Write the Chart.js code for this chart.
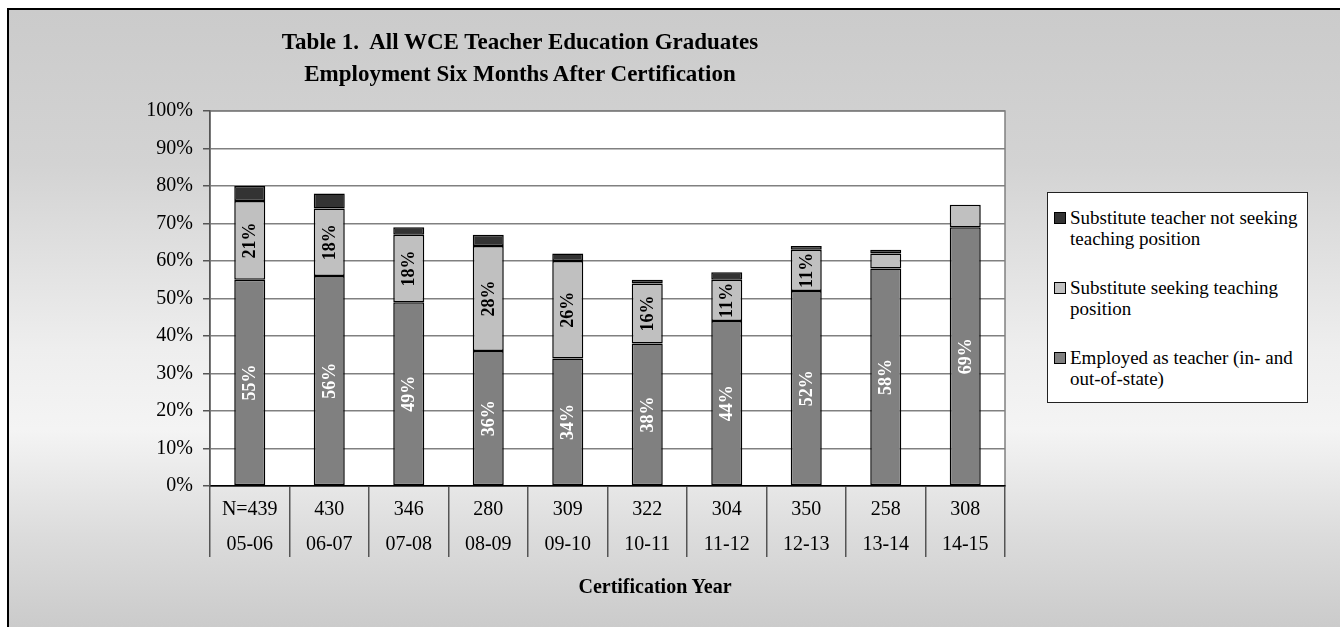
<!DOCTYPE html>
<html>
<head>
<meta charset="utf-8">
<script src="https://cdn.jsdelivr.net/npm/chart.js@4.4.0/dist/chart.umd.min.js"></script>
<style>
  html, body { margin: 0; padding: 0; background: #fff; width: 1340px; height: 627px; overflow: hidden; }
  #frame {
    position: absolute; left: 7px; top: 8px; right: 0; bottom: 0;
    border-left: 2px solid #000; border-top: 2px solid #000;
    background: linear-gradient(to bottom, #cbcbcb 0%, #d3d3d3 25%, #eeeeee 55%, #f4f4f4 68%, #dcdcdc 85%, #cbcbcb 100%);
  }
  canvas { position: absolute; left: 0; top: 0; }
  .txt { position: absolute; font-family: "Liberation Serif", "Times New Roman", serif; color: #000; }
  #title { left: 220px; width: 600px; top: 26px; text-align: center; font-weight: bold; font-size: 23px; line-height: 32px; }
  #xtitle { left: 555px; width: 200px; top: 575px; text-align: center; font-weight: bold; font-size: 20px; }
  #legend { position: absolute; left: 1047px; top: 192px; width: 259px; height: 209px; border: 1px solid #222; background: #fff;
    font-family: "Liberation Serif", "Times New Roman", serif; font-size: 19px; line-height: 21px; }
  .item { position: absolute; left: 6px; right: 4px; padding-left: 16px; }
  .mk { position: absolute; left: 0; top: 5px; width: 10px; height: 10px; border: 1px solid #000; }
</style>
</head>
<body>
<div id="frame"></div>
<canvas id="chart" width="1340" height="627"></canvas>
<div class="txt" id="title">Table 1.&nbsp; All WCE Teacher Education Graduates<br>Employment Six Months After Certification</div>
<div class="txt" id="xtitle">Certification Year</div>
<div id="legend"></div>
<script>
const years = ['05-06', '06-07', '07-08', '08-09', '09-10', '10-11', '11-12', '12-13', '13-14', '14-15'];
const counts = ['N=439', '430', '346', '280', '309', '322', '304', '350', '258', '308'];

// percent of graduates
const employed = [55, 56, 49, 36, 34, 38, 44, 52, 58, 69];
const subSeeking = [21, 18, 18, 28, 26, 16, 11, 11, 4, 6];
const subNotSeeking = [4, 4, 2, 3, 2, 1, 2, 1, 1, null];

const seriesNames = ['Employed as teacher (in- and out-of-state)', 'Substitute seeking teaching position', 'Substitute teacher not seeking teaching position'];
const seriesColors = ['#808080', '#c0c0c0', '#333333'];

var lables = [];
for (let i = 0; i < years.length; i++) {
    lables.push([counts[i], years[i]]);
}

const serif = 'Liberation Serif';

const plotBg = {
    id: 'plotBg',
    beforeDraw(chart) {
        const a = chart.chartArea, ctx = chart.ctx;
        ctx.save();
        ctx.fillStyle = '#fff';
        ctx.fillRect(a.left, a.top, a.right - a.left, a.bottom - a.top);
        ctx.strokeStyle = '#808080';
        ctx.lineWidth = 1.5;
        ctx.strokeRect(a.left, a.top, a.right - a.left, a.bottom - a.top);
        ctx.restore();
    }
};

// rotated percent labels inside the segments
const barLabels = {
    id: 'barLabels',
    afterDatasetsDraw(chart) {
        const ctx = chart.ctx;
        [0, 1].forEach(d => {
            const ds = chart.data.datasets[d];
            chart.getDatasetMeta(d).data.forEach((bar, i) => {
                const v = ds.data[i];
                if (v == null || (d === 1 && v < 10)) return;
                const p = bar.getProps(['x', 'y', 'base'], true);
                ctx.save();
                ctx.translate(p.x, (p.y + p.base) / 2);
                ctx.rotate(-Math.PI / 2);
                ctx.font = 'bold 18px "' + serif + '"';
                ctx.fillStyle = d === 0 ? '#fff' : '#000';
                ctx.textAlign = 'center';
                ctx.textBaseline = 'middle';
                ctx.fillText(v + '%', 0, 1);
                ctx.restore();
            });
        });
    }
};

function makeSet(idx, data) {
    return {
        label: seriesNames[idx],
        data: data,
        backgroundColor: seriesColors[idx],
        borderColor: '#000',
        borderWidth: 1.5,
        borderSkipped: false,
        barPercentage: 0.39,
        categoryPercentage: 1
    };
}

const chartConfig = {
    type: 'bar',
    data: {
        labels: lables,
        datasets: [makeSet(0, employed), makeSet(1, subSeeking), makeSet(2, subNotSeeking)]
    },
    options: {
        responsive: false,
        animation: false,
        devicePixelRatio: 1,
        layout: { padding: { top: 111, right: 335, left: 0, bottom: 0 } },
        plugins: {
            legend: { display: false },
            tooltip: { enabled: false }
        },
        scales: {
            x: {
                stacked: true,
                afterFit: (s) => { s.height = 141; },
                grid: { offset: true, drawOnChartArea: false, drawTicks: true, tickLength: 71, color: '#555', tickColor: '#555', lineWidth: 1.5 },
                border: { color: '#000', width: 1.5 },
                ticks: { color: '#000', autoSkip: false, maxRotation: 0, padding: -64.5, font: { family: serif, size: 20, lineHeight: 1.75 } }
            },
            y: {
                stacked: true,
                min: 0,
                max: 100,
                afterFit: (s) => { s.width = 210; },
                grid: { color: '#808080', tickColor: '#555', tickLength: 7, lineWidth: 1.5 },
                border: { color: '#555', width: 1.5 },
                ticks: { stepSize: 10, color: '#000', padding: 10, font: { family: serif, size: 20 }, callback: (v) => v + '%' }
            }
        }
    },
    plugins: [plotBg, barLabels]
};

const resultChart = new Chart(document.getElementById('chart').getContext('2d'), chartConfig);

// legend, top entry = top of stack
const legendBox = document.getElementById('legend');
[2, 1, 0].forEach((idx, k) => {
    const it = document.createElement('div');
    it.className = 'item';
    it.style.top = (14 + k * 70) + 'px';
    it.innerHTML = '<span class="mk" style="background:' + seriesColors[idx] + '"></span>' + seriesNames[idx];
    legendBox.appendChild(it);
});
</script>
</body>
</html>
